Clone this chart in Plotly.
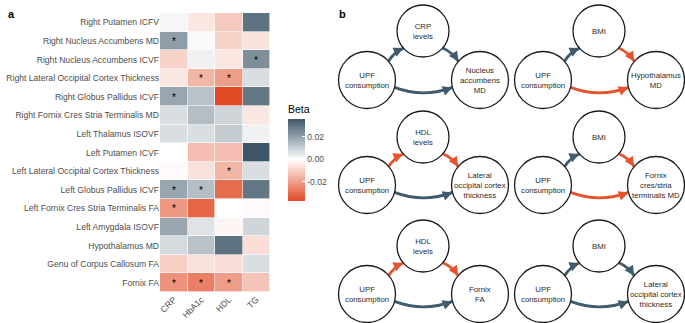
import numpy as np
import plotly.graph_objects as go

# ---------------- Panel a data ----------------
rows = ["Right Putamen ICFV", "Right Nucleus Accumbens MD", "Right Nucleus Accumbens ICVF",
        "Right Lateral Occipital Cortex Thickness", "Right Globus Pallidus ICVF",
        "Right Fornix Cres Stria Terminalis MD", "Left Thalamus ISOVF", "Left Putamen ICVF",
        "Left Lateral Occipital Cortex Thickness", "Left Globus Pallidus ICVF",
        "Left Fornix Cres Stria Terminalis FA", "Left Amygdala ISOVF", "Hypothalamus MD",
        "Genu of Corpus Callosum FA", "Fornix FA"]
predictors = ["CRP", "HbA1c", "HDL", "TG"]
beta_crp   = [0.002, 0.021, -0.009, -0.005, 0.019, 0.007, 0.007, 0.000, -0.001, 0.019, -0.021, 0.019, 0.008, -0.010, -0.022]
beta_hba1c = [-0.005, 0.001, 0.003, -0.015, 0.013, 0.014, 0.007, -0.013, -0.006, 0.014, -0.031, 0.006, 0.013, -0.006, -0.026]
beta_hdl   = [-0.011, -0.009, -0.005, -0.020, -0.037, 0.009, 0.011, -0.013, -0.015, -0.030, 0.000, -0.002, 0.030, -0.007, -0.020]
beta_tg    = [0.030, -0.006, 0.024, 0.007, 0.029, -0.005, 0.003, 0.036, 0.007, 0.029, -0.001, 0.009, -0.007, 0.007, -0.012]
sig_crp    = [0, 1, 0, 0, 1, 0, 0, 0, 0, 1, 1, 0, 0, 0, 1]
sig_hba1c  = [0, 0, 0, 1, 0, 0, 0, 0, 0, 1, 0, 0, 0, 0, 1]
sig_hdl    = [0, 0, 0, 1, 0, 0, 0, 0, 1, 0, 0, 0, 0, 0, 1]
sig_tg     = [0, 0, 1, 0, 0, 0, 0, 0, 0, 0, 0, 0, 0, 0, 0]
cbar_ticks = [-0.02, 0.0, 0.02]
cbar_ticktext = ["-0.02", "0.00", "0.02"]

# ---------------- Panel b data ----------------
mediators = ["CRP<br>levels", "BMI", "HDL<br>levels", "BMI", "HDL<br>levels", "BMI"]
outcomes = ["Nucleus<br>accumbens<br>MD", "Hypothalamus<br>MD",
            "Lateral<br>occipital cortex<br>thickness", "Fornix<br>cres/stria<br>terminalis MD",
            "Fornix<br>FA", "Lateral<br>occipital cortex<br>thickness"]
exposure = "UPF<br>consumption"
a_sign = [1, 1, -1, 1, -1, 1]     # UPF -> mediator
b_sign = [1, -1, -1, -1, -1, 1]   # mediator -> outcome
c_sign = [1, -1, 1, -1, 1, 1]     # UPF -> outcome (direct)

W, H = 685, 323
FONT = "Liberation Sans, Arial, sans-serif"
BLUE = "#3F5B6C"
RED = "#E4542E"
LOW, HIGH = "#E04A25", "#3D5768"

z = np.column_stack([beta_crp, beta_hba1c, beta_hdl, beta_tg])
sig = np.column_stack([sig_crp, sig_hba1c, sig_hdl, sig_tg])
stars = np.where(sig == 1, "*", "")
zmin, zmax = float(z.min()), float(z.max())
mid = -zmin / (zmax - zmin)

fig = go.Figure()
fig.add_trace(go.Heatmap(
    z=z, x=predictors, y=rows, text=stars, texttemplate="%{text}",
    textfont=dict(size=10, color="black", family=FONT),
    zmin=zmin, zmax=zmax,
    colorscale=[[0, LOW], [mid, "#FFFFFF"], [1, HIGH]],
    xgap=0.6, ygap=0.6, hoverinfo="skip",
    colorbar=dict(
        title=dict(text="Beta", side="top", font=dict(size=10.5, family=FONT, color="black")),
        x=288 / W, xanchor="left", y=1 - 201 / H, yanchor="bottom",
        thickness=17, lenmode="pixels", len=99, outlinewidth=0,
        tickvals=cbar_ticks, ticktext=cbar_ticktext, ticks="inside", ticklen=3,
        tickcolor="white", tickfont=dict(size=8.6, family=FONT, color="#4D4D4D"),
        xpad=0, ypad=0,
    ),
))

# Heatmap axes
fig.update_layout(
    xaxis=dict(domain=[160 / W, 270 / W], tickangle=-45, showgrid=False, zeroline=False,
               tickfont=dict(size=8.6, family=FONT, color="#4D4D4D"), automargin=False,
               ticks="", fixedrange=True),
    yaxis=dict(domain=[1 - 292 / H, 1 - 13 / H], autorange="reversed", showgrid=False,
               zeroline=False, tickfont=dict(size=8.6, family=FONT, color="#4D4D4D"),
               automargin=False, ticks="", fixedrange=True),
    xaxis2=dict(domain=[0, 1], range=[0, W], visible=False, fixedrange=True, anchor="y2"),
    yaxis2=dict(domain=[0, 1], range=[H, 0], visible=False, fixedrange=True, anchor="x2"),
)
# invisible trace to activate overlay axes
fig.add_trace(go.Scatter(x=[0, W], y=[0, H], xaxis="x2", yaxis="y2", mode="markers",
                         marker=dict(opacity=0), hoverinfo="skip", showlegend=False))

shapes, annots = [], []

# panel labels
annots.append(dict(text="<b>a</b>", x=6 / W, y=1 - 6 / H, xref="paper", yref="paper",
                   showarrow=False, font=dict(size=11, family=FONT, color="black")))
annots.append(dict(text="<b>b</b>", x=342 / W, y=1 - 6 / H, xref="paper", yref="paper",
                   showarrow=False, font=dict(size=11, family=FONT, color="black")))

col_x = [367, 543]
row_top = [31, 137, 246]
row_bot = [80, 185, 294]
DX_MED, DX_OUT = 56, 113
R_SIDE, R_TOP = 28.5, 26


def circle(cx, cy, r, label):
    shapes.append(dict(type="circle", xref="x2", yref="y2", x0=cx - r, x1=cx + r, y0=cy - r, y1=cy + r,
                       line=dict(color="#1A1A1A", width=1.3), fillcolor="white", layer="above"))
    annots.append(dict(text=label, x=cx, y=cy, xref="x2", yref="y2", showarrow=False,
                       font=dict(size=7.8, family=FONT, color="#2B2B2B"), align="center"))


def curved_arrow(p0, p2, ctrl, color):
    p0, p2, ctrl = np.array(p0, float), np.array(p2, float), np.array(ctrl, float)
    path = f"M {p0[0]:.2f},{p0[1]:.2f} Q {ctrl[0]:.2f},{ctrl[1]:.2f} {p2[0]:.2f},{p2[1]:.2f}"
    shapes.append(dict(type="path", path=path, xref="x2", yref="y2",
                       line=dict(color=color, width=2.8), layer="above"))
    t = p2 - ctrl
    t = t / np.linalg.norm(t)
    tail = p2 - 5 * t
    annots.append(dict(text="", x=p2[0], y=p2[1], ax=tail[0], ay=tail[1], xref="x2", yref="y2",
                       axref="x2", ayref="y2", showarrow=True, arrowhead=2, arrowsize=0.7,
                       arrowwidth=2.8, arrowcolor=color, standoff=0))


def col(s):
    return BLUE if s > 0 else RED


for k in range(6):
    r, c = divmod(k, 2)
    ux, uy = col_x[c], row_bot[r]
    mx, my = ux + DX_MED, row_top[r]
    ox, oy = ux + DX_OUT, row_bot[r]
    centroid = np.array([(ux + mx + ox) / 3, (uy + my + oy) / 3])

    # a path: UPF -> mediator
    d = np.array([mx - ux, my - uy], float); d /= np.linalg.norm(d)
    p0 = np.array([ux, uy]) + R_SIDE * d
    p2 = np.array([mx, my]) - R_TOP * d
    m = (p0 + p2) / 2
    nrm = np.array([-d[1], d[0]])
    if np.dot(nrm, m - centroid) < 0:
        nrm = -nrm
    curved_arrow(p0, p2, m + 3 * nrm, col(a_sign[k]))

    # b path: mediator -> outcome
    d = np.array([ox - mx, oy - my], float); d /= np.linalg.norm(d)
    p0 = np.array([mx, my]) + R_TOP * d
    p2 = np.array([ox, oy]) - R_SIDE * d
    m = (p0 + p2) / 2
    nrm = np.array([-d[1], d[0]])
    if np.dot(nrm, m - centroid) < 0:
        nrm = -nrm
    curved_arrow(p0, p2, m + 3 * nrm, col(b_sign[k]))

    # c' path: UPF -> outcome (direct, sagging arc)
    th = np.radians(15)
    p0 = (ux + R_SIDE * np.cos(th), uy + R_SIDE * np.sin(th))
    p2 = (ox - R_SIDE * np.cos(th), oy + R_SIDE * np.sin(th))
    ctrl = ((p0[0] + p2[0]) / 2, p0[1] + 11)
    curved_arrow(p0, p2, ctrl, col(c_sign[k]))

    circle(ux, uy, R_SIDE, exposure)
    circle(mx, my, R_TOP, mediators[k])
    circle(ox, oy, R_SIDE, outcomes[k])

fig.update_layout(
    width=W, height=H, margin=dict(l=0, r=0, t=0, b=0, autoexpand=False),
    paper_bgcolor="white", plot_bgcolor="rgba(0,0,0,0)",
    shapes=shapes, annotations=annots, showlegend=False,
    font=dict(family=FONT),
)

fig.write_html("out.html", config={"displayModeBar": False, "staticPlot": True},
               post_script="document.body.style.margin='0';document.body.style.overflow='hidden';")
